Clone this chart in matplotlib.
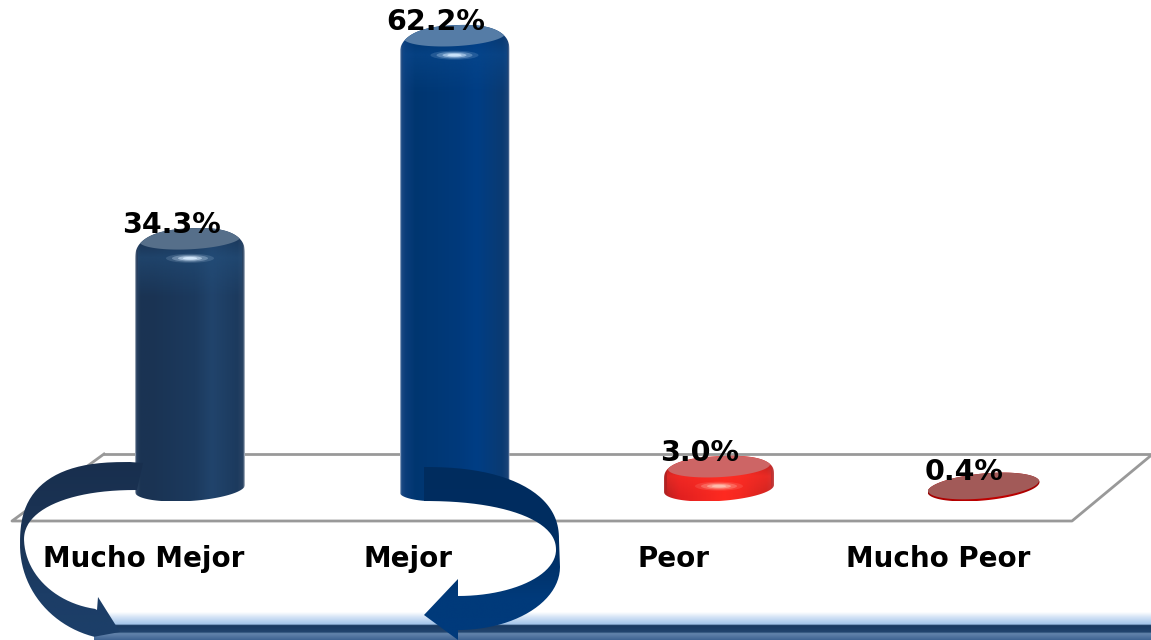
import numpy as np
import matplotlib
matplotlib.use("Agg")
import matplotlib.pyplot as plt
from matplotlib.path import Path
from matplotlib.patches import PathPatch, Ellipse, Polygon
from matplotlib.colors import LinearSegmentedColormap as LSC, to_rgb

categories = ["Mucho Mejor", "Mejor", "Peor", "Mucho Peor"]
values = [34.3, 62.2, 3.0, 0.4]
value_labels = ["34.3%", "62.2%", "3.0%", "0.4%"]

stops = [0, 0.012, 0.05, 0.14, 0.55, 0.7, 0.93, 0.985, 1]
side_colours = [
    ["#c4ccd4", "#2a4262", "#1b3453", "#1a3353", "#1c3a5e", "#21446c", "#1c3a5e", "#2a4464", "#c4ccd4"],
    ["#c4ccdc", "#1c4a84", "#0b3d7a", "#003670", "#003a7c", "#003e85", "#0a3a72", "#1c4478", "#c4ccdc"],
    ["#b84040", "#b02020", "#c42020", "#e02020", "#ff2a20", "#f42820", "#d02420", "#c03030", "#c85050"],
    ["#900000", "#a00000", "#a80000", "#b00000", "#c00000", "#c00000", "#a80000", "#a00000", "#900000"],
]
cap_colours = ["#566f8a", "#557ca6", "#cd6565", "#a25a58"]
glow_colours = ["#d6ebff", "#cfe8ff", "#ffc0b0", None]
sheen_colours = ["#24517e", "#0a4a90", "#ff3028", None]

W, H = 1151, 640
fig = plt.figure(figsize=(W / 100, H / 100), dpi=100)
ax = fig.add_axes([0, 0, 1, 1])
ax.set_xlim((0 - 190) / 264.5, (W - 190) / 264.5)
ax.set_ylim((478 - H) / 7.28, 478 / 7.28)
ax.axis("off")


def to_data(x, y):
    return (np.asarray(x, float) - 190) / 264.5, (478 - np.asarray(y, float)) / 7.28


def to_px(i, v):
    return 190 + 264.5 * i, 478 - 7.28 * v


def arc(cx, cy, a, b, start_deg, end_deg, n=2.0, steps=50):
    """Superelliptic arc in pixel coordinates (y down, angle clockwise on screen)."""
    t = np.radians(np.linspace(start_deg, end_deg, steps))
    c, s = np.cos(t), np.sin(t)
    e = 2 / n
    return np.column_stack([cx + a * np.sign(c) * np.abs(c) ** e,
                            cy + b * np.sign(s) * np.abs(s) ** e])


def fill_gradient(outline, colours, horizontal=True, z=3, positions=None):
    o = np.asarray(outline)
    xd, yd = to_data(o[:, 0], o[:, 1])
    seq = list(zip(positions, colours)) if positions is not None else colours
    cmap = LSC.from_list("g", seq, N=512)
    grad = np.linspace(0, 1, 512)
    grad = grad[None, :] if horizontal else grad[:, None]
    x0, x1 = o[:, 0].min(), o[:, 0].max()
    y0, y1 = o[:, 1].min(), o[:, 1].max()
    ex0, ey0 = to_data(x0, y0)
    ex1, ey1 = to_data(x1, y1)
    im = ax.imshow(grad, cmap=cmap, extent=[ex0, ex1, ey1, ey0], aspect="auto",
                   origin="upper", zorder=z, interpolation="bilinear")
    patch = PathPatch(Path(np.column_stack([xd, yd])), transform=ax.transData,
                      fc="none", ec="none")
    ax.add_patch(patch)
    im.set_clip_path(patch)
    return patch


def px_line(xs, ys, **kw):
    xd, yd = to_data(xs, ys)
    ax.plot(xd, yd, solid_capstyle="projecting", **kw)


# floor outline
px_line([104, 1160], [454, 454], color="#999999", lw=2, zorder=1)
px_line([1160, 1072, 12, 104], [448, 521, 521, 454], color="#999999", lw=2, zorder=1)

# bottom band
band = [(94, 612), (W, 612), (W, 640), (94, 640), (94, 612)]
fill_gradient(band,
              ["#ffffff", "#d0e1f5", "#a3c4e8", "#1a3a60", "#22446e", "#6585ac", "#3f6392"],
              horizontal=False, z=2,
              positions=[0, 0.2, 0.44, 0.47, 0.72, 0.76, 1])

# bars
for i, v in enumerate(values):
    cx, top = to_px(i, v)
    base = 488.5
    th2 = np.linspace(0, np.pi, 60)
    if v < 1:
        th = np.linspace(0, 2 * np.pi, 120)
        body = np.column_stack([cx + 56 * np.cos(th),
                                487 + 13.5 * np.sin(th) - 5 * np.cos(th)])
        cap = np.column_stack([cx + 55.5 * np.cos(th),
                               485.6 + 12.8 * np.sin(th) - 5 * np.cos(th)])
    else:
        rise = min(28.0, (base - top) * 0.62)
        shoulder = top + rise
        th = np.linspace(np.pi, 2 * np.pi, 60)
        c, s = np.cos(th), np.sin(th)
        ex = 0.8
        ux = np.sign(c) * np.abs(c) ** ex
        uy = np.sign(s) * np.abs(s) ** ex
        upper = np.column_stack([cx + 55 * ux, shoulder + rise * uy - 2.5 * ux])
        lower = np.column_stack([cx + 55 * np.cos(th2),
                                 base + 12.5 * np.sin(th2) - 3.5 * np.cos(th2)])
        body = np.vstack([upper, lower, upper[:1]])
        t3 = np.linspace(0, 2 * np.pi, 90)
        half_h = 10.5
        cap = np.column_stack([cx + 51 * np.cos(t3),
                               top + half_h + half_h * np.sin(t3) - 2.5 * np.cos(t3)])
    clip = fill_gradient(body, side_colours[i], z=3, positions=stops)

    # soft sheen around the glint on the upper part of the column
    if sheen_colours[i]:
        sheen_h = min(70, base - top + 10)
        ring = np.array([(cx - 52, top + 12), (cx + 52, top + 12),
                         (cx + 52, top + sheen_h), (cx - 52, top + sheen_h), (cx - 52, top + 12)])
        col = to_rgb(sheen_colours[i])
        fill_gradient(ring, [(*col, 0.0), (*col, 0.55), (*col, 0.0)],
                      horizontal=False, z=3.5, positions=[0, 0.3, 1])
        ax.images[-1].set_clip_path(clip)

    # top face
    cxd, cyd = to_data(cap[:, 0], cap[:, 1])
    face = Polygon(np.column_stack([cxd, cyd]), fc=cap_colours[i], ec="none", zorder=4)
    ax.add_patch(face)
    face.set_clip_path(clip)

    # specular glint
    if glow_colours[i]:
        gx, gy = to_data(cx, top + 30)
        for scale, alpha in [(1.0, 0.15), (0.75, 0.3), (0.5, 0.55), (0.3, 0.9)]:
            ax.add_patch(Ellipse((gx, gy), 48 * scale / 264.5, 9 * scale / 7.28,
                                 fc=glow_colours[i], ec="none", alpha=alpha, zorder=5))

# curved arrows
left_arrow = np.vstack([
    [(143, 463)],
    arc(130, 545, 110, 83, 270, 180, n=2.6),
    arc(120, 545, 100, 95, 180, 105, n=2.0),
    [(120, 632), (98, 597), (97, 610)],
    arc(110, 538, 86, 72, 100, 180, n=2.0),
    arc(137, 540, 113, 50, 180, 270, n=2.2),
    [(143, 463)],
])
fill_gradient(left_arrow, ["#182f4e", "#1a3253", "#1b3658", "#1c3d66", "#1c3f69"],
              horizontal=False, z=6)

right_arrow = np.vstack([
    [(424, 467)],
    arc(424, 540, 135, 73, 270, 360, n=2.3),
    arc(458, 567, 102, 63, 0, 90, n=2.0),
    [(458, 640), (424, 615), (458, 579), (458, 596)],
    arc(458, 550, 98, 46, 90, 0, n=2.0),
    arc(424, 550, 132, 49, 360, 270, n=2.2),
    [(424, 467)],
])
fill_gradient(right_arrow, ["#002c5e", "#002d60", "#002f64", "#003a7a", "#003a7c"],
              horizontal=False, z=6)

# text
for i, name in enumerate(categories):
    cx, _ = to_px(i, 0)
    tx, ty = to_data(cx - 46 + (0 if i < 3 else 0.5), 559)
    ax.text(tx, ty, name, ha="center", va="center", fontsize=20, fontweight="bold",
            family="DejaVu Sans", color="black", zorder=8)

for i, (v, lab) in enumerate(zip(values, value_labels)):
    cx, top = to_px(i, v)
    tx, ty = to_data(cx - 19, top - 3)
    ax.text(tx, ty, lab, ha="center", va="center", fontsize=20.5, fontweight="bold",
            family="DejaVu Sans", color="black", zorder=8)

ax.set_xlim((0 - 190) / 264.5, (W - 190) / 264.5)
ax.set_ylim((478 - H) / 7.28, 478 / 7.28)
fig.savefig("out.png", dpi=100)
